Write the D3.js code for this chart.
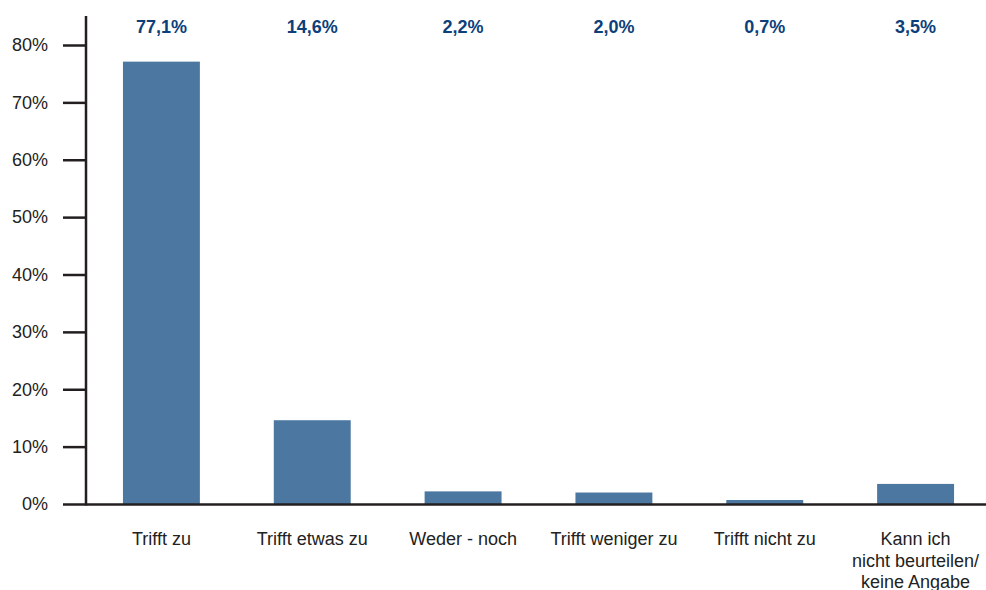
<!DOCTYPE html>
<html>
<head>
<meta charset="utf-8">
<script src="https://cdn.jsdelivr.net/npm/d3@7"></script>
<style>
  body { margin: 0; background: #fff; }
  svg { display: block; font-family: "Liberation Sans", Arial, sans-serif; }
</style>
</head>
<body>
<svg id="chart"></svg>
<script>
const categories = [
  ["Trifft zu"],
  ["Trifft etwas zu"],
  ["Weder - noch"],
  ["Trifft weniger zu"],
  ["Trifft nicht zu"],
  ["Kann ich", "nicht beurteilen/", "keine Angabe"]
];
const values = [77.1, 14.6, 2.2, 2.0, 0.7, 3.5];
const valueLabels = ["77,1%", "14,6%", "2,2%", "2,0%", "0,7%", "3,5%"];
const yTicks = [0, 10, 20, 30, 40, 50, 60, 70, 80];

const width = 986;
const height = 590;
const left = 86;
const right = 991;
const baseY = 504;
const topY = 45; // position of 80%

const svg = d3.select("#chart").attr("width", width).attr("height", height);

const x = d3.scaleBand()
  .domain(d3.range(categories.length))
  .range([left, right])
  .paddingInner(0.49)
  .paddingOuter(0.245);

const y = d3.scaleLinear().domain([0, 80]).range([baseY, topY]);

// bars
svg.selectAll("rect.bar")
  .data(values)
  .enter()
  .append("rect")
  .attr("class", "bar")
  .attr("x", (d, i) => x(i))
  .attr("y", d => y(d))
  .attr("width", x.bandwidth())
  .attr("height", d => baseY - y(d))
  .attr("fill", "#4b77a1");

// y axis
const yAxis = svg.append("g")
  .attr("transform", `translate(${left},0)`)
  .call(d3.axisLeft(y).tickValues(yTicks).tickSize(23).tickPadding(15).tickFormat(d => d + "%"));
yAxis.select(".domain").remove();
yAxis.selectAll(".tick line").attr("stroke", "#231f20").attr("stroke-width", 2.5);
yAxis.selectAll(".tick text")
  .attr("font-size", 18)
  .attr("fill", "#222")
  .attr("font-family", "Liberation Sans, Arial, sans-serif");

svg.append("line")
  .attr("x1", left).attr("x2", left)
  .attr("y1", 16).attr("y2", baseY + 1.5)
  .attr("stroke", "#231f20").attr("stroke-width", 2.5);

// x axis baseline
svg.append("line")
  .attr("x1", left).attr("x2", width)
  .attr("y1", baseY + 0.5).attr("y2", baseY + 0.5)
  .attr("stroke", "#231f20").attr("stroke-width", 2.5);

// value labels on top
svg.selectAll("text.val")
  .data(valueLabels)
  .enter()
  .append("text")
  .attr("class", "val")
  .attr("x", (d, i) => x(i) + x.bandwidth() / 2)
  .attr("y", 33)
  .attr("text-anchor", "middle")
  .attr("font-size", 18)
  .attr("font-weight", "bold")
  .attr("fill", "#0d3f7a")
  .text(d => d);

// category labels
const cat = svg.selectAll("text.cat")
  .data(categories)
  .enter()
  .append("text")
  .attr("class", "cat")
  .attr("x", (d, i) => x(i) + x.bandwidth() / 2)
  .attr("y", 545)
  .attr("text-anchor", "middle")
  .attr("font-size", 18)
  .attr("fill", "#222");

cat.selectAll("tspan")
  .data(d => d)
  .enter()
  .append("tspan")
  .attr("x", function () { return d3.select(this.parentNode).attr("x"); })
  .attr("dy", (d, i) => i === 0 ? 0 : 21.5)
  .text(d => d);
</script>
</body>
</html>
